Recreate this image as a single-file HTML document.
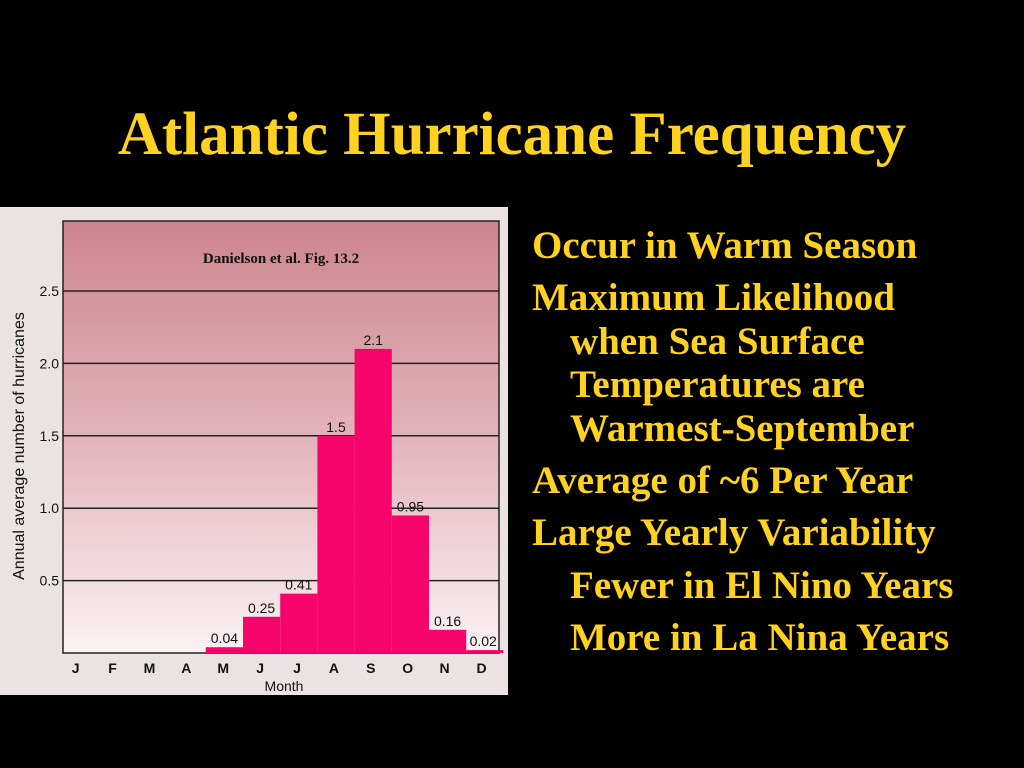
<!DOCTYPE html>
<html><head><meta charset="utf-8"><style>
body{margin:0;width:1024px;height:768px;background:#000;overflow:hidden;position:relative;font-family:"Liberation Serif",serif}
#title{position:absolute;left:0;width:1024px;top:104px;text-align:center;color:#ffd21f;font-weight:bold;font-size:61px;line-height:1;margin:0}
.t{position:absolute;color:#ffd21f;font-weight:bold;font-size:39px;white-space:nowrap;line-height:1}
</style></head><body>
<h1 id="title">Atlantic Hurricane Frequency</h1>
<svg id="chart" style="position:absolute;left:0;top:207px" width="508" height="488" viewBox="0 207 508 488">
<defs><linearGradient id="bg" x1="0" y1="0" x2="0" y2="1"><stop offset="0" stop-color="#cc858d"/><stop offset="0.5" stop-color="#e3b3bb"/><stop offset="1" stop-color="#fbf2f3"/></linearGradient></defs>
<rect x="0" y="207" width="508" height="488" fill="#ebe3e3"/>
<rect x="63" y="221" width="436" height="432" fill="url(#bg)" stroke="#222" stroke-width="1.5"/>
<g id="grid"></g><g id="bars"></g><g id="labels"></g>
<text x="281" y="263" text-anchor="middle" font-family="Liberation Serif" font-weight="bold" font-size="15" fill="#111">Danielson et al. Fig. 13.2</text>
<text x="284" y="691" text-anchor="middle" font-family="Liberation Sans" font-size="14" fill="#111">Month</text>
<text transform="translate(24,446) rotate(-90)" text-anchor="middle" font-family="Liberation Sans" font-size="16" fill="#111">Annual average number of hurricanes</text>
</svg>
<script>
const months=["J","F","M","A","M","J","J","A","S","O","N","D"];
const values=[0,0,0,0,0.04,0.25,0.41,1.5,2.1,0.95,0.16,0.02];
const valueLabels=["","","","","0.04","0.25","0.41","1.5","2.1","0.95","0.16","0.02"];
const yTicks=[0.5,1.0,1.5,2.0,2.5];
const yTickLabels=["0.5","1.0","1.5","2.0","2.5"];
const NS="http://www.w3.org/2000/svg";
const y=v=>653-v*144.8;
const x=i=>57+i*37.2;
const bw=37.2;
function mk(t,a,p){const e=document.createElementNS(NS,t);for(const k in a)e.setAttribute(k,a[k]);p.appendChild(e);return e;}
const g=document.getElementById('grid'),b=document.getElementById('bars'),l=document.getElementById('labels');
yTicks.forEach((v,i)=>{
 const ln=mk('line',{x1:63,x2:499,y1:y(v),y2:y(v),stroke:'#222','stroke-width':1.5},g);
 
 
 const t=mk('text',{x:59,y:y(v)+5,'text-anchor':'end','font-family':'Liberation Sans','font-size':14,fill:'#111'},l);
 t.textContent=yTickLabels[i];
 
 
});
months.forEach((m,i)=>{
 const cx=x(i)+bw/2;
 if(values[i]>0){
  const r=mk('rect',{x:x(i),y:y(values[i]),width:bw,height:653-y(values[i]),fill:'#f5056b'},b);
  
  
  const vt=mk('text',{x:i==11?x(i)+17:cx,y:y(values[i])-4,'text-anchor':'middle','font-family':'Liberation Sans','font-size':14,fill:'#111'},l);
  vt.textContent=valueLabels[i];
  
  
 }
 const t=mk('text',{x:cx-i*0.3,y:673,'text-anchor':'middle','font-family':'Liberation Sans','font-weight':'bold','font-size':14,fill:'#111'},l);
 t.textContent=m;
 
 
});
</script>
<div class="t" style="left:532px;top:226px">Occur in Warm Season</div>
<div class="t" style="left:532px;top:278px">Maximum Likelihood</div>
<div class="t" style="left:570px;top:322px">when Sea Surface</div>
<div class="t" style="left:570px;top:365px">Temperatures are</div>
<div class="t" style="left:570px;top:409px">Warmest-September</div>
<div class="t" style="left:532px;top:461px">Average of ~6 Per Year</div>
<div class="t" style="left:532px;top:513px">Large Yearly Variability</div>
<div class="t" style="left:570px;top:566px">Fewer in El Nino Years</div>
<div class="t" style="left:570px;top:618px">More in La Nina Years</div>
</body></html>
